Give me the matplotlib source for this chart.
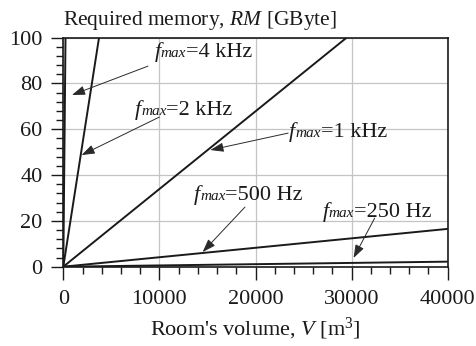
import matplotlib
matplotlib.use("Agg")
import matplotlib.pyplot as plt
from matplotlib.ticker import MultipleLocator
from matplotlib.offsetbox import TextArea, HPacker, AnnotationBbox

plt.rcParams['font.family'] = ['Liberation Serif', 'DejaVu Serif']
plt.rcParams['mathtext.fontset'] = 'custom'
plt.rcParams['mathtext.rm'] = 'Liberation Serif'
plt.rcParams['mathtext.it'] = 'Liberation Serif:italic'

# line end points (V in m^3, RM in GByte)
labels = ["4 kHz", "2 kHz", "1 kHz", "500 Hz", "250 Hz"]
vol_4k = [0, 230]
rm_4k = [0, 100]
vol_2k = [0, 3720]
rm_2k = [0, 100]
vol_1k = [0, 29500]
rm_1k = [0, 100]
vol_500 = [0, 40000]
rm_500 = [0, 16.5]
vol_250 = [0, 40000]
rm_250 = [0, 2.2]

# annotation text position, arrow tail, arrow head (data coords)
text_pos = [(9500, 93.7), (7450, 68.4), (23500, 58.8), (13600, 31.3), (27000, 23.9)]
tails = [(8800, 87.5), (10000, 65.3), (23400, 58.3), (18900, 26.0), (32400, 21.2)]
heads = [(900, 74.9), (1900, 48.7), (15300, 50.9), (14500, 6.4), (30200, 3.8)]

fig = plt.figure(figsize=(4.77, 3.46), dpi=100)
ax = fig.add_axes([0.1327, 0.2292, 0.8059, 0.6624])

lc = '#1a1a1a'
for v, r in [(vol_4k, rm_4k), (vol_2k, rm_2k), (vol_1k, rm_1k), (vol_500, rm_500), (vol_250, rm_250)]:
    ax.plot(v, r, color=lc, lw=1.4, solid_capstyle='butt')

for lab, tp, tl, hd in zip(labels, text_pos, tails, heads):
    parts = [TextArea('f', textprops=dict(fontsize=16, style='italic', color=lc)),
             TextArea('max', textprops=dict(fontsize=11, style='italic', color=lc)),
             TextArea('=' + lab, textprops=dict(fontsize=16, color=lc))]
    box = HPacker(children=parts, align='baseline', pad=0, sep=0)
    ab = AnnotationBbox(box, tp, box_alignment=(0, 0.5), frameon=False, pad=0)
    ax.add_artist(ab)
    ax.annotate('', xy=hd, xytext=tl,
                arrowprops=dict(arrowstyle='-|>,head_length=0.8,head_width=0.28',
                                color='#2a2a2a', lw=0.7, shrinkA=0, shrinkB=0))

ax.set_xlim(0, 40000)
ax.set_ylim(0, 100)
ax.xaxis.set_major_locator(MultipleLocator(10000))
ax.xaxis.set_minor_locator(MultipleLocator(2000))
ax.yaxis.set_major_locator(MultipleLocator(20))
ax.yaxis.set_minor_locator(MultipleLocator(4))
ax.tick_params(which='major', direction='out', length=9, width=1, labelsize=16, colors='#1a1a1a')
ax.tick_params(which='minor', direction='out', length=5, width=1, colors='#1a1a1a')
ax.tick_params(axis='x', which='major', pad=8)
ax.tick_params(axis='y', which='major', pad=6)
ax.grid(True, which='major', color='#c4c4c4', lw=0.9)
ax.set_axisbelow(True)
for s in ax.spines.values():
    s.set_color('#1a1a1a')
    s.set_linewidth(1.2)

ax.set_title('Required memory, $RM$ [GByte]', loc='left', fontsize=15.5, pad=9,
             color='#1a1a1a')
ax.set_xlabel("Room's volume, $V$ [m$^3$]", fontsize=16, labelpad=5, color='#1a1a1a')

fig.savefig('out.png', dpi=100)
